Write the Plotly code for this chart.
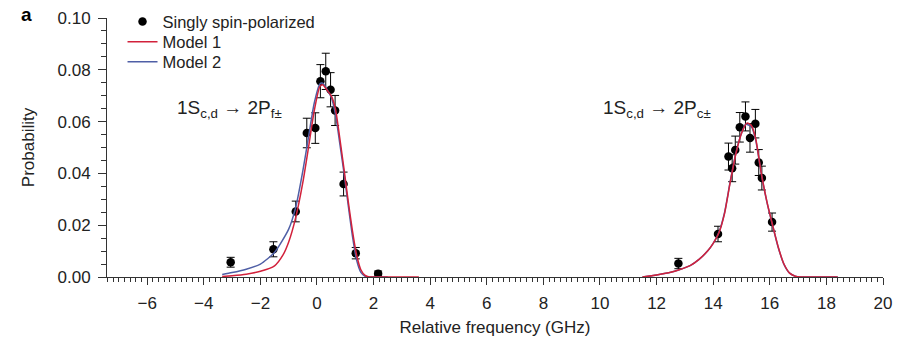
import plotly.graph_objects as go

# ---------------- data ----------------
left_x = [-3.05, -1.54, -0.75, -0.36, -0.06, 0.12, 0.31, 0.48, 0.64, 0.94, 1.37, 2.16]
left_y = [0.0057, 0.0107, 0.0253, 0.0556, 0.0575, 0.0756, 0.0794, 0.0723, 0.0643, 0.0359, 0.0092, 0.0013]
left_err = [0.0019, 0.0029, 0.0040, 0.0057, 0.0059, 0.0064, 0.0070, 0.0066, 0.0058, 0.0046, 0.0022, 0.0010]

right_x = [12.77, 14.17, 14.54, 14.67, 14.78, 14.94, 15.14, 15.30, 15.49, 15.61, 15.72, 16.08]
right_y = [0.0052, 0.0166, 0.0465, 0.0420, 0.0490, 0.0578, 0.0620, 0.0537, 0.0592, 0.0442, 0.0382, 0.0212]
right_err = [0.0020, 0.0030, 0.0052, 0.0052, 0.0054, 0.0057, 0.0056, 0.0055, 0.0055, 0.0050, 0.0046, 0.0035]

m1_left_x = [-3.35, -3.0, -2.5, -2.0, -1.5, -1.2, -1.0, -0.75, -0.5, -0.3, -0.1, 0.1, 0.2, 0.35, 0.5, 0.65, 0.8, 0.95, 1.1, 1.25, 1.4, 1.55, 1.7, 1.85, 2.2, 3.6]
m1_left_y = [0.0002, 0.0005, 0.0011, 0.0022, 0.0043, 0.0085, 0.0135, 0.0230, 0.0365, 0.0500, 0.0640, 0.0735, 0.0742, 0.0722, 0.0700, 0.0650, 0.0540, 0.0420, 0.0295, 0.0180, 0.0085, 0.0028, 0.0006, 0.0, 0.0, 0.0]

m2_left_x = [-3.35, -3.0, -2.5, -2.0, -1.5, -1.0, -0.75, -0.5, -0.3, -0.1, 0.1, 0.2, 0.35, 0.5, 0.65, 0.8, 0.95, 1.1, 1.25, 1.4, 1.55, 1.7, 1.8, 2.1, 2.5]
m2_left_y = [0.0010, 0.0017, 0.0030, 0.0050, 0.0095, 0.0185, 0.0270, 0.0410, 0.0540, 0.0670, 0.0745, 0.0748, 0.0725, 0.0695, 0.0630, 0.0520, 0.0405, 0.0280, 0.0160, 0.0065, 0.0018, 0.0003, 0.0, 0.0, 0.0]

m1_right_x = [11.5, 12.0, 12.5, 12.8, 13.2, 13.5, 13.8, 14.0, 14.2, 14.4, 14.6, 14.8, 15.0, 15.2, 15.35, 15.5, 15.7, 15.9, 16.1, 16.3, 16.5, 16.7, 16.9, 17.1, 17.5, 18.4]
m1_right_y = [0.0, 0.0008, 0.0018, 0.0028, 0.0045, 0.0068, 0.0100, 0.0130, 0.0170, 0.0245, 0.0365, 0.0475, 0.0555, 0.0595, 0.0585, 0.0535, 0.0400, 0.0290, 0.0200, 0.0115, 0.0050, 0.0015, 0.0003, 0.0, 0.0, 0.0]

m2_right_x = [11.5, 12.0, 12.5, 12.8, 13.2, 13.5, 13.8, 14.0, 14.2, 14.4, 14.6, 14.8, 15.0, 15.15, 15.35, 15.5, 15.7, 15.9, 16.1, 16.3, 16.5, 16.7, 16.9, 17.1, 17.5, 18.4]
m2_right_y = [0.0, 0.0008, 0.0018, 0.0028, 0.0045, 0.0068, 0.0100, 0.0130, 0.0172, 0.0248, 0.0368, 0.0478, 0.0555, 0.0590, 0.0580, 0.0530, 0.0398, 0.0288, 0.0198, 0.0113, 0.0049, 0.0015, 0.0003, 0.0, 0.0, 0.0]

x_ticks = [-6, -4, -2, 0, 2, 4, 6, 8, 10, 12, 14, 16, 18, 20]
y_ticks = [0.00, 0.02, 0.04, 0.06, 0.08, 0.10]

label_left = "1S<sub>c,d</sub> \u2192 2P<sub>f\u00b1</sub>"
label_right = "1S<sub>c,d</sub> \u2192 2P<sub>c\u00b1</sub>"
label_pos_left = (-3.1, 0.0650)
label_pos_right = (12.0, 0.0650)

RED = "#d2213b"
BLUE = "#4f5fa6"
FONT = "Liberation Sans, Arial, sans-serif"

fig = go.Figure()

fig.add_trace(go.Scatter(
    x=left_x + right_x, y=left_y + right_y, mode="markers",
    marker=dict(color="black", size=8.5),
    error_y=dict(type="data", array=left_err + right_err, color="black", thickness=1, width=4),
    name="Singly spin-polarized", legend="legend",
))
fig.add_trace(go.Scatter(
    x=m2_left_x + [None] + m2_right_x, y=m2_left_y + [None] + m2_right_y,
    mode="lines", line=dict(color=BLUE, width=1.5, shape="spline", smoothing=0.6),
    name="Model 2", legend="legend3",
))
fig.add_trace(go.Scatter(
    x=m1_left_x + [None] + m1_right_x, y=m1_left_y + [None] + m1_right_y,
    mode="lines", line=dict(color=RED, width=1.5, shape="spline", smoothing=0.6),
    name="Model 1", legend="legend2",
))

fig.add_annotation(x=label_pos_left[0], y=label_pos_left[1], text=label_left, showarrow=False,
                   font=dict(size=19, color="#222"), xanchor="center", yanchor="middle")
fig.add_annotation(x=label_pos_right[0], y=label_pos_right[1], text=label_right, showarrow=False,
                   font=dict(size=19, color="#222"), xanchor="center", yanchor="middle")
fig.add_annotation(x=-0.104, y=1.012, xref="paper", yref="paper", text="<b>a</b>", showarrow=False,
                   font=dict(size=19, color="black"), xanchor="center", yanchor="middle")

leg_common = dict(x=0.02, xanchor="left", yanchor="middle", bgcolor="rgba(0,0,0,0)",
                  font=dict(size=16.5, color="#222"), itemwidth=30)

fig.update_layout(
    width=897, height=339,
    margin=dict(l=107, r=14, t=18, b=62, autoexpand=False),
    paper_bgcolor="white", plot_bgcolor="white",
    font=dict(family=FONT, size=17, color="#222"),
    showlegend=True,
    legend=dict(y=0.985, **leg_common),
    legend2=dict(y=0.907, **leg_common),
    legend3=dict(y=0.830, **leg_common),
)
fig.update_xaxes(
    range=[-7.42, 20], tickvals=x_ticks, showgrid=False, zeroline=False, automargin=False,
    showline=True, linecolor="#333", linewidth=1,
    ticks="outside", ticklen=7, tickcolor="#333", tickwidth=1, ticklabelstandoff=4,
    minor=dict(dtick=0.2, tick0=0, ticks="outside", ticklen=4, tickcolor="#333", showgrid=False),
    title=dict(text="Relative frequency (GHz)", standoff=8, font=dict(size=17)),
    tickfont=dict(size=17),
)
fig.update_yaxes(
    range=[0, 0.1], tickvals=y_ticks, tickformat=".2f", showgrid=False, zeroline=False, automargin=False,
    showline=True, linecolor="#333", linewidth=1,
    ticks="outside", ticklen=8, tickcolor="#333", tickwidth=1, ticklabelstandoff=4,
    minor=dict(dtick=0.005, tick0=0, ticks="outside", ticklen=5, tickcolor="#333", showgrid=False),
    title=dict(text="Probability", standoff=18, font=dict(size=17)),
    tickfont=dict(size=17),
)

fig.write_html("out.html")
